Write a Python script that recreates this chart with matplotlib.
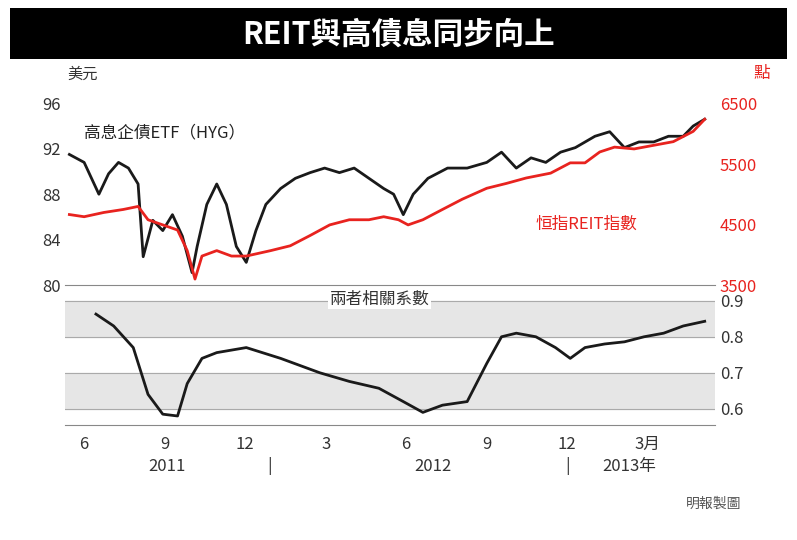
import matplotlib
matplotlib.use("Agg")
import matplotlib.pyplot as plt
from matplotlib.patches import Rectangle

plt.rcParams['font.family'] = ['Noto Sans CJK TC', 'DejaVu Sans']

# months counted from Jan 2011 = 1
hyg_m = [5.45,6.0,6.55,6.91,7.28,7.65,8.01,8.2,8.56,8.93,9.29,9.66,10.02,10.21,10.57,10.94,11.3,11.67,12.04,12.4,12.77,13.32,13.87,14.42,14.96,15.51,16.06,16.61,17.16,17.53,17.89,18.26,18.81,19.54,20.27,21.0,21.55,22.1,22.65,23.2,23.75,24.3,25.03,25.58,26.13,26.67,27.22,27.77,28.32,28.69,29.12]
hyg_v = [91.5,90.8,88.0,89.8,90.8,90.3,88.9,82.5,85.7,84.8,86.2,84.3,81.1,83.4,87.1,88.9,87.1,83.4,82.0,84.8,87.1,88.5,89.4,89.9,90.3,89.9,90.3,89.4,88.5,88.0,86.2,88.0,89.4,90.3,90.3,90.8,91.7,90.3,91.2,90.8,91.7,92.1,93.1,93.5,92.1,92.6,92.6,93.1,93.1,94.0,94.6]

reit_m = [5.45,6.0,6.73,7.46,8.01,8.38,8.93,9.48,9.84,10.13,10.39,10.94,11.49,12.04,12.95,13.68,14.42,15.15,15.88,16.61,17.16,17.71,18.07,18.62,19.35,20.09,21.0,21.73,22.47,23.38,24.11,24.66,25.21,25.76,26.49,27.22,27.95,28.69,29.12]
reit_v = [4666,4630,4700,4750,4800,4580,4495,4410,4070,3600,3980,4070,3980,3980,4070,4150,4320,4495,4580,4580,4630,4580,4495,4580,4750,4920,5100,5180,5270,5350,5520,5520,5700,5780,5750,5810,5870,6040,6240]

corr_m = [6.44,7.1,7.83,8.38,8.93,9.48,9.84,10.39,10.94,12.04,13.32,14.78,15.88,16.98,17.89,18.62,19.35,20.27,21.0,21.55,22.1,22.83,23.56,24.11,24.66,25.39,26.13,26.86,27.59,28.32,29.12]
corr_v = [0.863,0.83,0.77,0.64,0.585,0.58,0.67,0.74,0.756,0.77,0.74,0.70,0.676,0.657,0.62,0.59,0.61,0.62,0.726,0.80,0.81,0.80,0.77,0.74,0.77,0.78,0.786,0.80,0.81,0.83,0.843]

tick_m = [6,9,12,15,18,21,24,27]
tick_lab = ['6','9','12','3','6','9','12','3月']
years = [('2011', 9.1), ('2012', 19.0), ('2013年', 26.3)]

fig = plt.figure(figsize=(7.97,5.4), dpi=100)
fig.patch.set_facecolor('white')
fig.add_artist(Rectangle((0.012,0.89),0.976,0.095,transform=fig.transFigure,facecolor='black',edgecolor='none'))
fig.text(0.5,0.935,'REIT與高債息同步向上',color='white',fontsize=22,fontweight='bold',ha='center',va='center')

red = '#e8231f'
ax = fig.add_axes([0.082,0.472,0.815,0.343])
ax.plot(hyg_m,hyg_v,color='#1a1a1a',lw=2)
ax.set_ylim(80,96.3); ax.set_xlim(5.3,29.5)
ax.set_yticks([80,84,88,92,96])
ax.tick_params(axis='y',length=0,labelsize=12,colors='#333')
ax.set_xticks([])
ax2 = ax.twinx()
ax2.plot(reit_m,reit_v,color=red,lw=2)
ax2.set_ylim(3500,6560)
ax2.set_yticks([3500,4500,5500,6500])
ax2.tick_params(axis='y',length=0,labelsize=12,colors=red)
for a in (ax,ax2):
    for s in a.spines.values(): s.set_visible(False)
ax.spines['bottom'].set_visible(True); ax.spines['bottom'].set_color('#888')
ax.text(6.0,93.0,'高息企債ETF（HYG）',fontsize=12,color='#222')
ax2.text(22.8,4500,'恒指REIT指數',fontsize=12,color=red,va='center')
fig.text(0.085,0.855,'美元',fontsize=11,color='#333')
fig.text(0.945,0.855,'點',fontsize=12,color=red)

bx = fig.add_axes([0.082,0.213,0.815,0.24])
bx.set_xlim(5.3,29.5); bx.set_ylim(0.555,0.915)
bx.axhspan(0.8,0.9,color='#e6e6e6',zorder=0)
bx.axhspan(0.6,0.7,color='#e6e6e6',zorder=0)
for yv in [0.6,0.7,0.8,0.9]:
    bx.axhline(yv,color='#aaa',lw=0.8,zorder=1)
bx.plot(corr_m,corr_v,color='#1a1a1a',lw=2,zorder=3)
bx.yaxis.tick_right()
bx.set_yticks([0.6,0.7,0.8,0.9]); bx.set_yticklabels(['0.6','0.7','0.8','0.9'])
bx.tick_params(axis='y',length=0,labelsize=12,colors='#333')
bx.set_xticks(tick_m); bx.set_xticklabels(tick_lab)
bx.tick_params(axis='x',length=0,labelsize=12,colors='#333',pad=8)
for s in bx.spines.values(): s.set_visible(False)
bx.spines['bottom'].set_visible(True); bx.spines['bottom'].set_color('#888')
bx.text(17.0,0.905,'兩者相關系數',fontsize=12,ha='center',va='center',color='#333',
        bbox=dict(facecolor='white',edgecolor='none',pad=1))
for lab,m in years:
    bx.text(m,0.44,lab,fontsize=12,ha='center',va='center',color='#333',transform=bx.transData,clip_on=False)
for m in [12.9,24.0]:
    bx.text(m,0.44,'|',fontsize=12,ha='center',va='center',color='#333',clip_on=False)
fig.text(0.93,0.06,'明報製圖',fontsize=10,ha='right',color='#555')

fig.savefig('out.png',dpi=100)
